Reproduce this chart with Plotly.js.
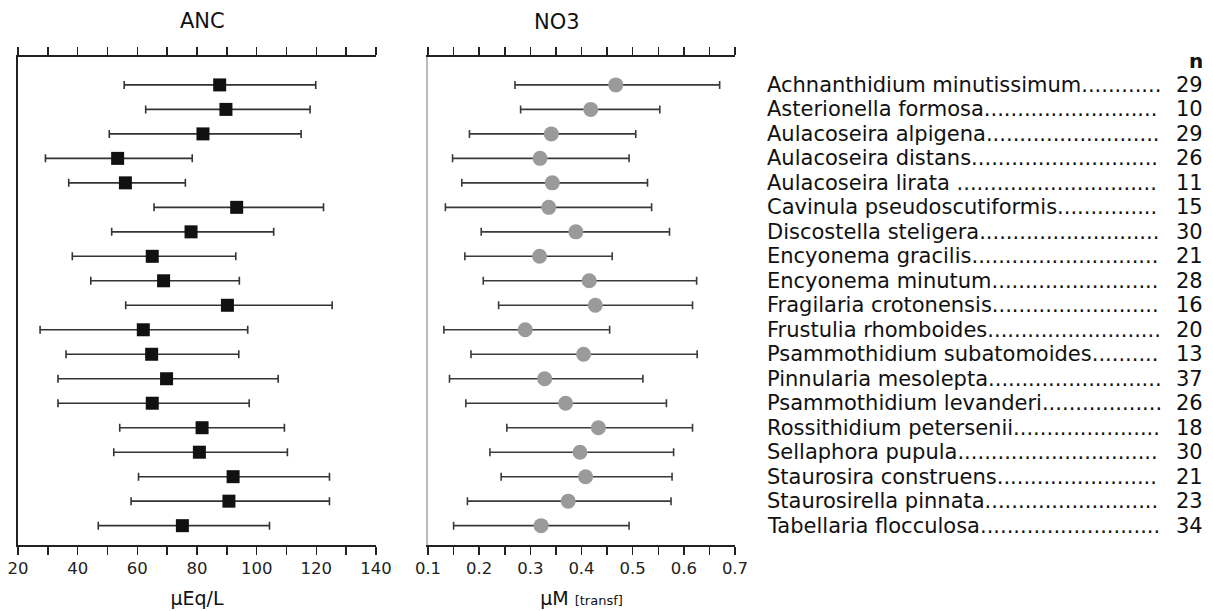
<!DOCTYPE html>
<html>
<head>
<meta charset="utf-8">
<script src="https://cdn.plot.ly/plotly-3.0.1.min.js"></script>
<style>
  html, body { margin: 0; padding: 0; background: #fff; }
  #chart { width: 1213px; height: 611px; }
</style>
</head>
<body>
<div id="chart"></div>
<script>
// ---- data ----
const speciesNames = [
  "Achnanthidium minutissimum",
  "Asterionella formosa",
  "Aulacoseira alpigena",
  "Aulacoseira distans",
  "Aulacoseira lirata ",
  "Cavinula pseudoscutiformis",
  "Discostella steligera",
  "Encyonema gracilis",
  "Encyonema minutum",
  "Fragilaria crotonensis",
  "Frustulia rhomboides",
  "Psammothidium subatomoides",
  "Pinnularia mesolepta",
  "Psammothidium levanderi",
  "Rossithidium petersenii",
  "Sellaphora pupula",
  "Staurosira construens",
  "Staurosirella pinnata",
  "Tabellaria flocculosa"
];
const nObs = [29, 10, 29, 26, 11, 15, 30, 21, 28, 16, 20, 13, 37, 26, 18, 30, 21, 23, 34];

const ancMean = [87.6, 89.7, 82.0, 53.4, 56.0, 93.3, 78.0, 65.0, 68.8, 90.2, 62.0, 64.8, 69.8, 65.0, 81.7, 80.8, 92.1, 90.7, 75.1];
const ancLow  = [55.6, 62.8, 50.6, 29.2, 37.0, 65.6, 51.4, 38.2, 44.4, 56.1, 27.4, 36.1, 33.4, 33.4, 54.1, 52.1, 60.4, 57.9, 46.9];
const ancHigh = [119.8, 117.9, 114.9, 78.4, 76.1, 122.4, 105.7, 93.0, 94.2, 125.3, 97.0, 94.0, 107.2, 97.5, 109.3, 110.3, 124.4, 124.4, 104.3];

const no3Mean = [0.467, 0.418, 0.341, 0.319, 0.343, 0.336, 0.389, 0.318, 0.415, 0.427, 0.290, 0.404, 0.328, 0.369, 0.433, 0.397, 0.408, 0.374, 0.321];
const no3Low  = [0.270, 0.281, 0.181, 0.148, 0.166, 0.134, 0.204, 0.172, 0.208, 0.238, 0.131, 0.184, 0.142, 0.174, 0.254, 0.221, 0.243, 0.177, 0.150];
const no3High = [0.670, 0.553, 0.506, 0.493, 0.529, 0.537, 0.572, 0.460, 0.625, 0.617, 0.455, 0.626, 0.520, 0.566, 0.617, 0.580, 0.577, 0.575, 0.493];

const ancTickVals = [20, 30, 40, 50, 60, 70, 80, 90, 100, 110, 120, 130, 140];
const ancTickText = ["20", "", "40", "", "60", "", "80", "", "100", "", "120", "", "140"];
const no3TickVals = [0.1, 0.15, 0.2, 0.25, 0.3, 0.35, 0.4, 0.45, 0.5, 0.55, 0.6, 0.65, 0.7];
const no3TickText = ["0.1", "", "0.2", "", "0.3", "", "0.4", "", "0.5", "", "0.6", "", "0.7"];

// ---- build ----
const rows = speciesNames.map((_, i) => i);
const W = 1213, H = 611;
const FONT = "DejaVu Sans, Verdana, sans-serif";
const LABEL_SIZE = 21;
const LABEL_X = 766, LEADER_END = 1162;

// leader dots after each name, up to a common end position
const ctx = document.createElement("canvas").getContext("2d");
ctx.font = LABEL_SIZE + "px 'DejaVu Sans'";
function withLeader(name) {
  let s = name;
  while (ctx.measureText(s + ".").width <= LEADER_END - LABEL_X) s += ".";
  return s;
}

const traceANC = {
  type: "scatter", mode: "markers",
  x: ancMean, y: rows, xaxis: "x", yaxis: "y",
  marker: { symbol: "square", size: 13, color: "#111111" },
  error_x: {
    type: "data", symmetric: false,
    array: ancMean.map((m, i) => ancHigh[i] - m),
    arrayminus: ancMean.map((m, i) => m - ancLow[i]),
    color: "#333333", thickness: 1.6, width: 4
  },
  hoverinfo: "x", showlegend: false
};
const traceNO3 = {
  type: "scatter", mode: "markers",
  x: no3Mean, y: rows, xaxis: "x2", yaxis: "y2",
  marker: { symbol: "circle", size: 15, color: "#9a9a9a" },
  error_x: {
    type: "data", symmetric: false,
    array: no3Mean.map((m, i) => no3High[i] - m),
    arrayminus: no3Mean.map((m, i) => m - no3Low[i]),
    color: "#3a3a3a", thickness: 1.6, width: 4
  },
  hoverinfo: "x", showlegend: false
};

const yDom = [(H - 545) / H, (H - 57) / H];
const yRange = [18.79, -1.14];

const axisCommon = {
  showline: true, linecolor: "#222", linewidth: 1.6,
  ticks: "outside", ticklen: 8, tickwidth: 1.5, tickcolor: "#222",
  mirror: "ticks", showgrid: false, zeroline: false,
  tickfont: { family: FONT, size: 16.5, color: "#222" },
  tickmode: "array", fixedrange: true
};

const annotations = [];
speciesNames.forEach((s, i) => {
  annotations.push({
    xref: "paper", yref: "y", x: LABEL_X / W, y: i, xanchor: "left", yanchor: "middle",
    text: withLeader(s), showarrow: false, borderpad: 0,
    font: { family: FONT, size: LABEL_SIZE, color: "#111" }
  });
  annotations.push({
    xref: "paper", yref: "y", x: 1204 / W, y: i, xanchor: "right", yanchor: "middle",
    text: String(nObs[i]), showarrow: false, borderpad: 0,
    font: { family: FONT, size: LABEL_SIZE, color: "#111" }
  });
});
annotations.push({
  xref: "paper", yref: "y", x: 1204 / W, y: -0.97, xanchor: "right", yanchor: "middle",
  text: "<b>n</b>", showarrow: false, borderpad: 0, font: { family: FONT, size: 20, color: "#111" }
});
annotations.push({
  xref: "paper", yref: "paper", x: 202 / W, y: (H - 21) / H, xanchor: "center", yanchor: "middle",
  text: "ANC", showarrow: false, font: { family: FONT, size: 21, color: "#111" }
});
annotations.push({
  xref: "paper", yref: "paper", x: 557 / W, y: (H - 22) / H, xanchor: "center", yanchor: "middle",
  text: "NO3", showarrow: false, font: { family: FONT, size: 21, color: "#111" }
});

const layout = {
  width: W, height: H,
  margin: { l: 0, r: 0, t: 0, b: 0 },
  paper_bgcolor: "#fff", plot_bgcolor: "#fff",
  xaxis: Object.assign({}, axisCommon, {
    domain: [18 / W, 376 / W], range: [20, 140], anchor: "y",
    tickvals: ancTickVals, ticktext: ancTickText,
    title: { text: "µEq/L", font: { family: FONT, size: 19, color: "#111" }, standoff: 14 }
  }),
  yaxis: {
    domain: yDom, range: yRange, anchor: "x",
    showline: true, linecolor: "#222", linewidth: 1.6, mirror: false,
    showticklabels: false, ticks: "", showgrid: false, zeroline: false, fixedrange: true
  },
  xaxis2: Object.assign({}, axisCommon, {
    domain: [428 / W, 735 / W], range: [0.1, 0.7], anchor: "y2",
    tickvals: no3TickVals, ticktext: no3TickText,
    title: { text: "µM <span style='font-size:13px'>[transf]</span>", font: { family: FONT, size: 19, color: "#111" }, standoff: 14 }
  }),
  yaxis2: {
    domain: yDom, range: yRange, anchor: "x2",
    showline: true, linecolor: "#bbbbbb", linewidth: 1.6, mirror: false,
    showticklabels: false, ticks: "", showgrid: false, zeroline: false, fixedrange: true
  },
  annotations: annotations
};

Plotly.newPlot("chart", [traceANC, traceNO3], layout, { displayModeBar: false, staticPlot: true });
</script>
</body>
</html>
